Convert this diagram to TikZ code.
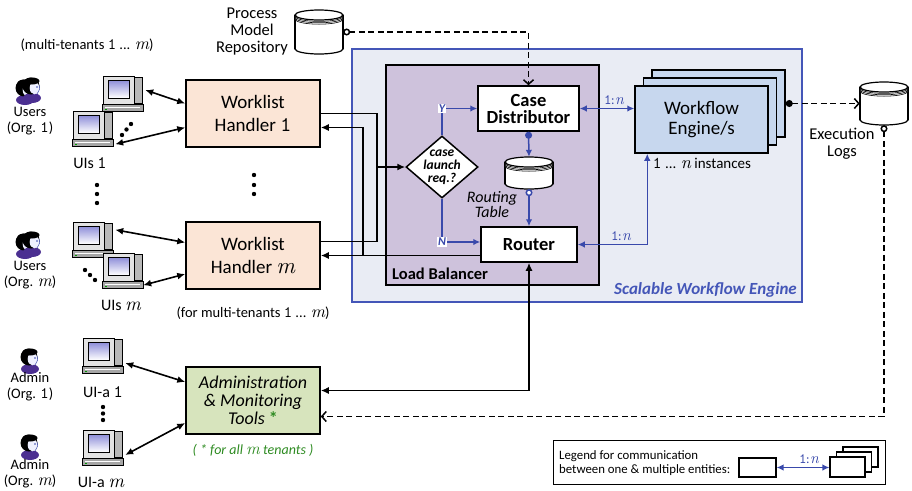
\documentclass[tikz,border=0pt]{standalone}
\usepackage{fontspec}
\setmainfont{Carlito}
\newfontfamily\lmmono{lmmono10-regular.otf}[Scale=1.1]
\newfontfamily\lmital{lmroman10-italic.otf}[Scale=1.2]
\usetikzlibrary{arrows.meta,shapes.geometric,calc}

\definecolor{swefill}{HTML}{E9ECF4}
\definecolor{sweblue}{HTML}{4456B8}
\definecolor{lbfill}{HTML}{CEC2DC}
\definecolor{whfill}{HTML}{FBE5D6}
\definecolor{admfill}{HTML}{D7E4BD}
\definecolor{wefill}{HTML}{C7D7EE}
\definecolor{linkblue}{HTML}{3949AB}
\definecolor{tgreen}{HTML}{2E8B22}
\definecolor{facecol}{HTML}{EEF0FF}
\definecolor{collar}{HTML}{4B2F91}
\definecolor{scrtop}{HTML}{8C8CD8}

% index glyphs
\newcommand\ione{{\lmmono 1}}
\newcommand\im{{\lmital m}}
\newcommand\inn{{\lmital n}}
\newcommand\onen{{\lmmono 1}\kern-0.5pt:\kern0.5pt\inn}

% database cylinder: name, cx, cy, half width, half height
\newcommand\dbcyl[5]{%
  \node[inner sep=0, minimum width={2*#4}, minimum height={2*#5}] (#1) at (#2,#3) {};
  \draw[line width=1.2pt, fill=white] (#2,#3+#5-5) ellipse [x radius=#4, y radius=5];
  \fill[white] (#2-#4,#3-#5+5) rectangle (#2+#4,#3+#5-5);
  \draw[line width=1.2pt] (#2-#4,#3-#5+5) -- (#2-#4,#3+#5-5) (#2+#4,#3-#5+5) -- (#2+#4,#3+#5-5);
  \foreach \dk in {4.2,2.8,1.4}{\draw[line width=0.6pt, fill=white] (#2,#3-#5+5+\dk) ellipse [x radius=#4, y radius=5];}
  \draw[line width=1.2pt, fill=white] (#2,#3-#5+5) ellipse [x radius=#4, y radius=5];
}

% person icon centred on the head
\newcommand\person[2]{%
  \fill[collar] (#1+1,#2+12) ellipse [x radius=9, y radius=5];
  \fill[black] (#1,#2) circle [radius=8.5];
  \fill[facecol] (#1+3.5,#2+2) ellipse [x radius=4.8, y radius=6.3];
  \draw[linkblue, line width=0.5pt] (#1+8,#2-1) .. controls (#1+9,#2+3) .. (#1+6,#2+8);
  \fill[black] (#1+1,#2-5) ellipse [x radius=7.5, y radius=3.5];
  \fill[linkblue] (#1+6,#2+1) circle [radius=0.9];
}

% desktop computer, top-left corner given
\newcommand\computer[3]{%
  \node[inner sep=0, minimum width=40, minimum height=36] (#1) at (#2+20,#3+18) {};
  \filldraw[fill=gray!55, line width=0.7pt] (#2+8,#3+1) rectangle (#2+39,#3+27);
  \filldraw[fill=gray!22, line width=0.7pt] (#2,#3) rectangle (#2+31,#3+28);
  \shade[top color=scrtop, bottom color=white] (#2+5,#3+4) rectangle (#2+26,#3+22);
  \draw[line width=0.6pt] (#2+5,#3+4) rectangle (#2+26,#3+22);
  \filldraw[fill=gray!70, line width=0.7pt] (#2-1,#3+28) rectangle (#2+40,#3+35);
  \draw[white, line width=0.6pt] (#2+2,#3+31) -- (#2+37,#3+31);
  \fill[green!60!black] (#2+2,#3+32.5) rectangle (#2+4,#3+34);
}

\tikzset{
  bk/.tip={Latex[length=8pt,width=7pt]},
  bl/.tip={Latex[length=7pt,width=6.5pt]},
  blk/.style={line width=1.6pt},
  bluelink/.style={line width=1.5pt, draw=linkblue},
  dlink/.style={line width=1.5pt, dash pattern=on 6pt off 3.5pt},
  barb/.tip={Straight Barb[length=4.5pt,width=10pt]},
  odot/.tip={Circle[open, fill=white, length=7pt]},
  fdot/.tip={Circle[length=7pt]},
  box/.style={draw, line width=1.5pt, inner sep=0pt, align=center},
  lbl/.style={inner sep=0pt, align=center},
  onelbl/.style={inner sep=0pt, text=linkblue, font=\fontsize{13}{13}\selectfont},
  tagYN/.style={fill=white, inner sep=1pt, text=linkblue, font=\bfseries\itshape\fontsize{12}{12}\selectfont},
}

\begin{document}
\begin{tikzpicture}[x=1pt, y=-1pt]
\useasboundingbox (0,0) rectangle (912,490);

% engine frame and load balancer
\node[draw=sweblue, fill=swefill, line width=1.2pt, minimum width=450, minimum height=253, inner sep=0] (swe) at (577,175.5) {};
\node[box, fill=lbfill, minimum width=213, minimum height=220] (lb) at (492.5,175) {};
\node[lbl, anchor=west, font=\bfseries\fontsize{16.5}{16}\selectfont] (lbname) at (392,274) {Load Balancer};
\node[lbl, anchor=east, text=sweblue, font=\bfseries\itshape\fontsize{17}{16}\selectfont] (swename) at (797,290) {Scalable Workflow Engine};

\node[box, fill=white, minimum width=101, minimum height=45, font=\bfseries\fontsize{18.5}{17}\selectfont] (cd) at (528.5,108.5) {Case\\Distributor};
\node[box, fill=white, minimum width=96, minimum height=35, font=\bfseries\fontsize{18.5}{16}\selectfont] (router) at (529,244.5) {Router};
\node[draw, line width=1.5pt, fill=white, diamond, inner sep=-4pt, minimum width=72, minimum height=62, align=center, font=\bfseries\itshape\fontsize{13.5}{13}\selectfont] (dia) at (442,167) {case\\launch\\req.?};
\dbcyl{rt}{529}{173}{24}{16}
\node[lbl, font=\itshape\fontsize{16}{15}\selectfont] (rtname) at (492,205) {Routing\\Table};

% workflow engine instances
\node[box, fill=wefill, minimum width=133, minimum height=67] (we3) at (718.5,103.5) {};
\node[box, fill=wefill, minimum width=133, minimum height=67] (we2) at (710,111.5) {};
\node[box, fill=wefill, minimum width=133, minimum height=67, font=\fontsize{19}{19.5}\selectfont] (we1) at (701.5,119.5) {Workflow\\Engine/s};
\node[lbl, font=\fontsize{15}{15}\selectfont] (wecount) at (702,163) {\ione{} ... \inn{} instances};

% repositories
\dbcyl{repo}{319}{32}{24}{22}
\node[lbl, font=\fontsize{16.5}{17}\selectfont] (reponame) at (252,32) {Process\\Model\\Repository};
\dbcyl{logs}{884}{103.5}{24}{21.5}
\node[lbl, font=\fontsize{16.5}{17}\selectfont] (logsname) at (842,144) {Execution\\Logs};

% worklist handlers and admin tools
\node[box, fill=whfill, minimum width=134, minimum height=67, font=\fontsize{19}{23}\selectfont] (wh1) at (253,113.5) {Worklist\\Handler \ione};
\node[box, fill=whfill, minimum width=134, minimum height=67, font=\fontsize{19}{23}\selectfont] (whm) at (253,255.5) {Worklist\\Handler \im};
\node[box, fill=admfill, minimum width=134, minimum height=67, font=\itshape\fontsize{18}{18}\selectfont] (adm) at (253,400.5) {Administration\\\& Monitoring\\Tools \textcolor{tgreen}{\upshape\bfseries *}};
\node[lbl, text=tgreen, font=\itshape\fontsize{14}{14}\selectfont] (admnote) at (253,450) {( * for all \im\ tenants )};
\node[lbl, font=\fontsize{14.5}{14}\selectfont] (tenants1) at (87,45) {(multi-tenants \ione{} ... \im)};
\node[lbl, font=\fontsize{14.5}{14}\selectfont] (tenants2) at (253,313) {(for multi-tenants \ione{} ... \im)};

% people
\person{24}{88}\person{31}{86}
\node[lbl, font=\fontsize{14.5}{16}\selectfont] (u1) at (30,121) {Users\\(Org. \ione)};
\person{24}{242}\person{31}{240}
\node[lbl, font=\fontsize{14.5}{16}\selectfont] (um) at (30,275) {Users\\(Org. \im)};
\person{29}{357}
\node[lbl, font=\fontsize{14.5}{16}\selectfont] (a1) at (30,387) {Admin\\(Org. \ione)};
\person{29}{443}
\node[lbl, font=\fontsize{14.5}{16}\selectfont] (am) at (30,474) {Admin\\(Org. \im)};

% user interfaces
\computer{c1a}{103}{76}
\computer{c1b}{73}{111}
\computer{cma}{73}{222}
\computer{cmb}{103}{253}
\computer{ca1}{83}{338}
\computer{cam}{83}{430}
\node[lbl, font=\fontsize{16}{15}\selectfont] (uis1) at (90,163) {UIs \ione};
\node[lbl, font=\fontsize{16}{15}\selectfont] (uism) at (121,305) {UIs \im};
\node[lbl, font=\fontsize{16}{15}\selectfont] (uia1) at (103,392) {UI-a \ione};
\node[lbl, font=\fontsize{16}{15}\selectfont] (uiam) at (101,482) {UI-a \im};

% ellipsis dots
\foreach \dx/\dy in {122/135,126.5/129.5,131/124, 85/270,90/275,95/280, 97/185,97/194,97/203, 254/175,254/185,254/194, 103/407,103/413.5,103/420}
  \fill (\dx,\dy) circle [radius=2.2];

% user interface links
\draw[blk, bk-bk] ($(c1a.east)+(2,-4)$) -- ($(wh1.west)+(0,-10)$);
\draw[blk, bk-bk] ($(c1b.south east)+(2,-3)$) -- ($(wh1.west)+(0,14)$);
\draw[blk, bk-bk] ($(cma.north east)+(2,8)$) -- ($(whm.west)+(0,-13)$);
\draw[blk, bk-bk] ($(cmb.south east)+(0,-4)$) -- ($(whm.west)+(0,18.5)$);
\draw[blk, bk-bk] ($(ca1.east)+(2,7)$) -- ($(adm.west)+(0,-18.5)$);
\draw[blk, bk-bk] ($(cam.east)+(2,7)$) -- ($(adm.west)+(0,22.5)$);

% handlers to load balancer and back
\coordinate (busA) at (377,167);
\coordinate (busB) at (363,255.5);
\draw[blk] (wh1.east) -| (busA);
\draw[blk] (busA) |- ($(whm.east)+(0,-14)$);
\draw[blk, -bk] (busA) -- (dia.west);
\draw[blk, -bk] (router.west |- whm.east) -- (whm.east);
\draw[blk, -bk] (busB) |- ($(wh1.east)+(0,14)$);
\draw[blk, bk-bk] ($(adm.east)+(0,-10)$) -| (router.south);

% decision branches
\draw[bluelink, -bl] (dia.north) |- (cd.west);
\draw[bluelink, -bl] (dia.south) |- ($(router.west)+(0,-2.5)$);
\node[tagYN] (ylab) at (dia.north |- cd.west) {Y};
\node[tagYN] (nlab) at ($(dia.south |- router.west)+(0,-2.5)$) {N};

% routing table
\draw[bluelink, fdot-bl] (cd.south) -- (rt.north);
\draw[bluelink, odot-bl] (rt.south) -- (router.north);

% engine links
\draw[bluelink, bl-bl] (cd.east) -- (cd.east -| we1.west);
\node[onelbl] (on1) at (614,100) {\onen};
\coordinate (weIn) at ($(we1.south west)+(13,0)$);
\draw[bluelink, bl-bl] (router.east) -| (weIn);
\node[onelbl] (on2) at (621,236) {\onen};

% repository and log links
\draw[dlink, odot-barb] (repo.east) -| (cd.north);
\draw[dlink, fdot-barb] (we3.east |- logs.west) -- (logs.west);
\draw[dlink, odot-barb] (logs.south) |- ($(adm.east)+(0,16)$);

% legend
\node[draw, line width=1pt, minimum width=332, minimum height=44, inner sep=0] (legend) at (719,462) {};
\node[lbl, anchor=west, align=left, font=\fontsize{12.8}{14}\selectfont] (legtext) at (559,463.5) {Legend for communication\\between one \& multiple entities:};
\node[draw, line width=1.1pt, minimum width=37, minimum height=19, inner sep=0] (lg1) at (757.5,467.5) {};
\node[draw, line width=1.1pt, fill=white, minimum width=35, minimum height=20, inner sep=0] (lgs3) at (860.5,457) {};
\node[draw, line width=1.1pt, fill=white, minimum width=35, minimum height=20, inner sep=0] (lgs2) at (854,462) {};
\node[draw, line width=1.1pt, fill=white, minimum width=35, minimum height=20, inner sep=0] (lgs1) at (847.5,467) {};
\draw[bluelink, bl-bl] (lg1.east) -- (lg1.east -| lgs1.west);
\node[onelbl] (on3) at (809,459) {\onen};
\end{tikzpicture}
\end{document}
